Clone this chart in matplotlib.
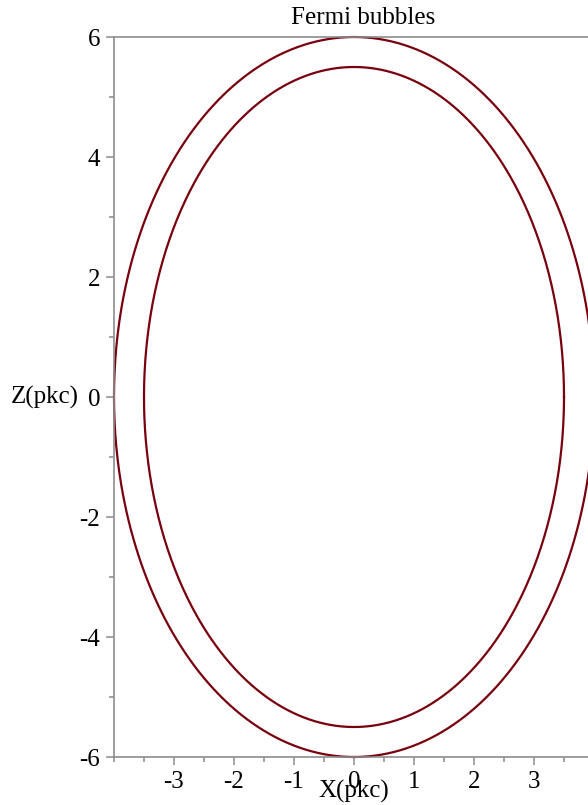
import numpy as np
import matplotlib
matplotlib.use("Agg")
import matplotlib.pyplot as plt
from matplotlib.ticker import MultipleLocator, FixedLocator

# Semi-axes of the two bubble boundaries (pkc)
semi_x = [4.0, 3.5]
semi_z = [6.0, 5.5]
x_ticks = [-3, -2, -1, 0, 1, 2, 3]
z_ticks = [-6, -4, -2, 0, 2, 4, 6]

W, H = 588, 805
plt.rcParams['font.family'] = ['Liberation Serif', 'DejaVu Serif']

fig = plt.figure(figsize=(W / 100, H / 100), dpi=100)
# x range [-4, 4] spans 480 px starting at x=114; the right end runs past the figure edge
ax = fig.add_axes([114 / W, 48 / H, 480 / W, 720 / H])

t = np.linspace(0, 2 * np.pi, 721)
for a, b in zip(semi_x, semi_z):
    ax.plot(a * np.cos(t), b * np.sin(t), color='#78000E', lw=1.6, clip_on=False)

ax.set_xlim(-4, 4)
ax.set_ylim(-6, 6)

grey = '#8c8c8c'
for side in ['left', 'bottom', 'top']:
    ax.spines[side].set_color(grey)
    ax.spines[side].set_linewidth(1.2)
ax.spines['right'].set_visible(False)

ax.xaxis.set_major_locator(FixedLocator(x_ticks))
ax.xaxis.set_minor_locator(MultipleLocator(0.5))
ax.yaxis.set_major_locator(FixedLocator(z_ticks))
ax.yaxis.set_minor_locator(MultipleLocator(1))
ax.set_xticklabels([str(v) for v in x_ticks])
ax.set_yticklabels([str(v) for v in z_ticks])

ax.tick_params(axis='both', which='major', direction='out', length=6, width=1.1,
               color=grey, labelsize=18, pad=4)
ax.tick_params(axis='both', which='minor', direction='out', length=3.5, width=1.1,
               color=grey)
ax.tick_params(axis='x', which='both', top=False)

fig.text(363 / W, 1 - 18 / H, 'Fermi bubbles', ha='center', va='center', fontsize=18)
fig.text(354 / W, 1 - 791 / H, 'X(pkc)', ha='center', va='center', fontsize=18)
fig.text(79 / W, 1 - 397 / H, 'Z(pkc)', ha='right', va='center', fontsize=18)

fig.savefig('out.png', dpi=100)
